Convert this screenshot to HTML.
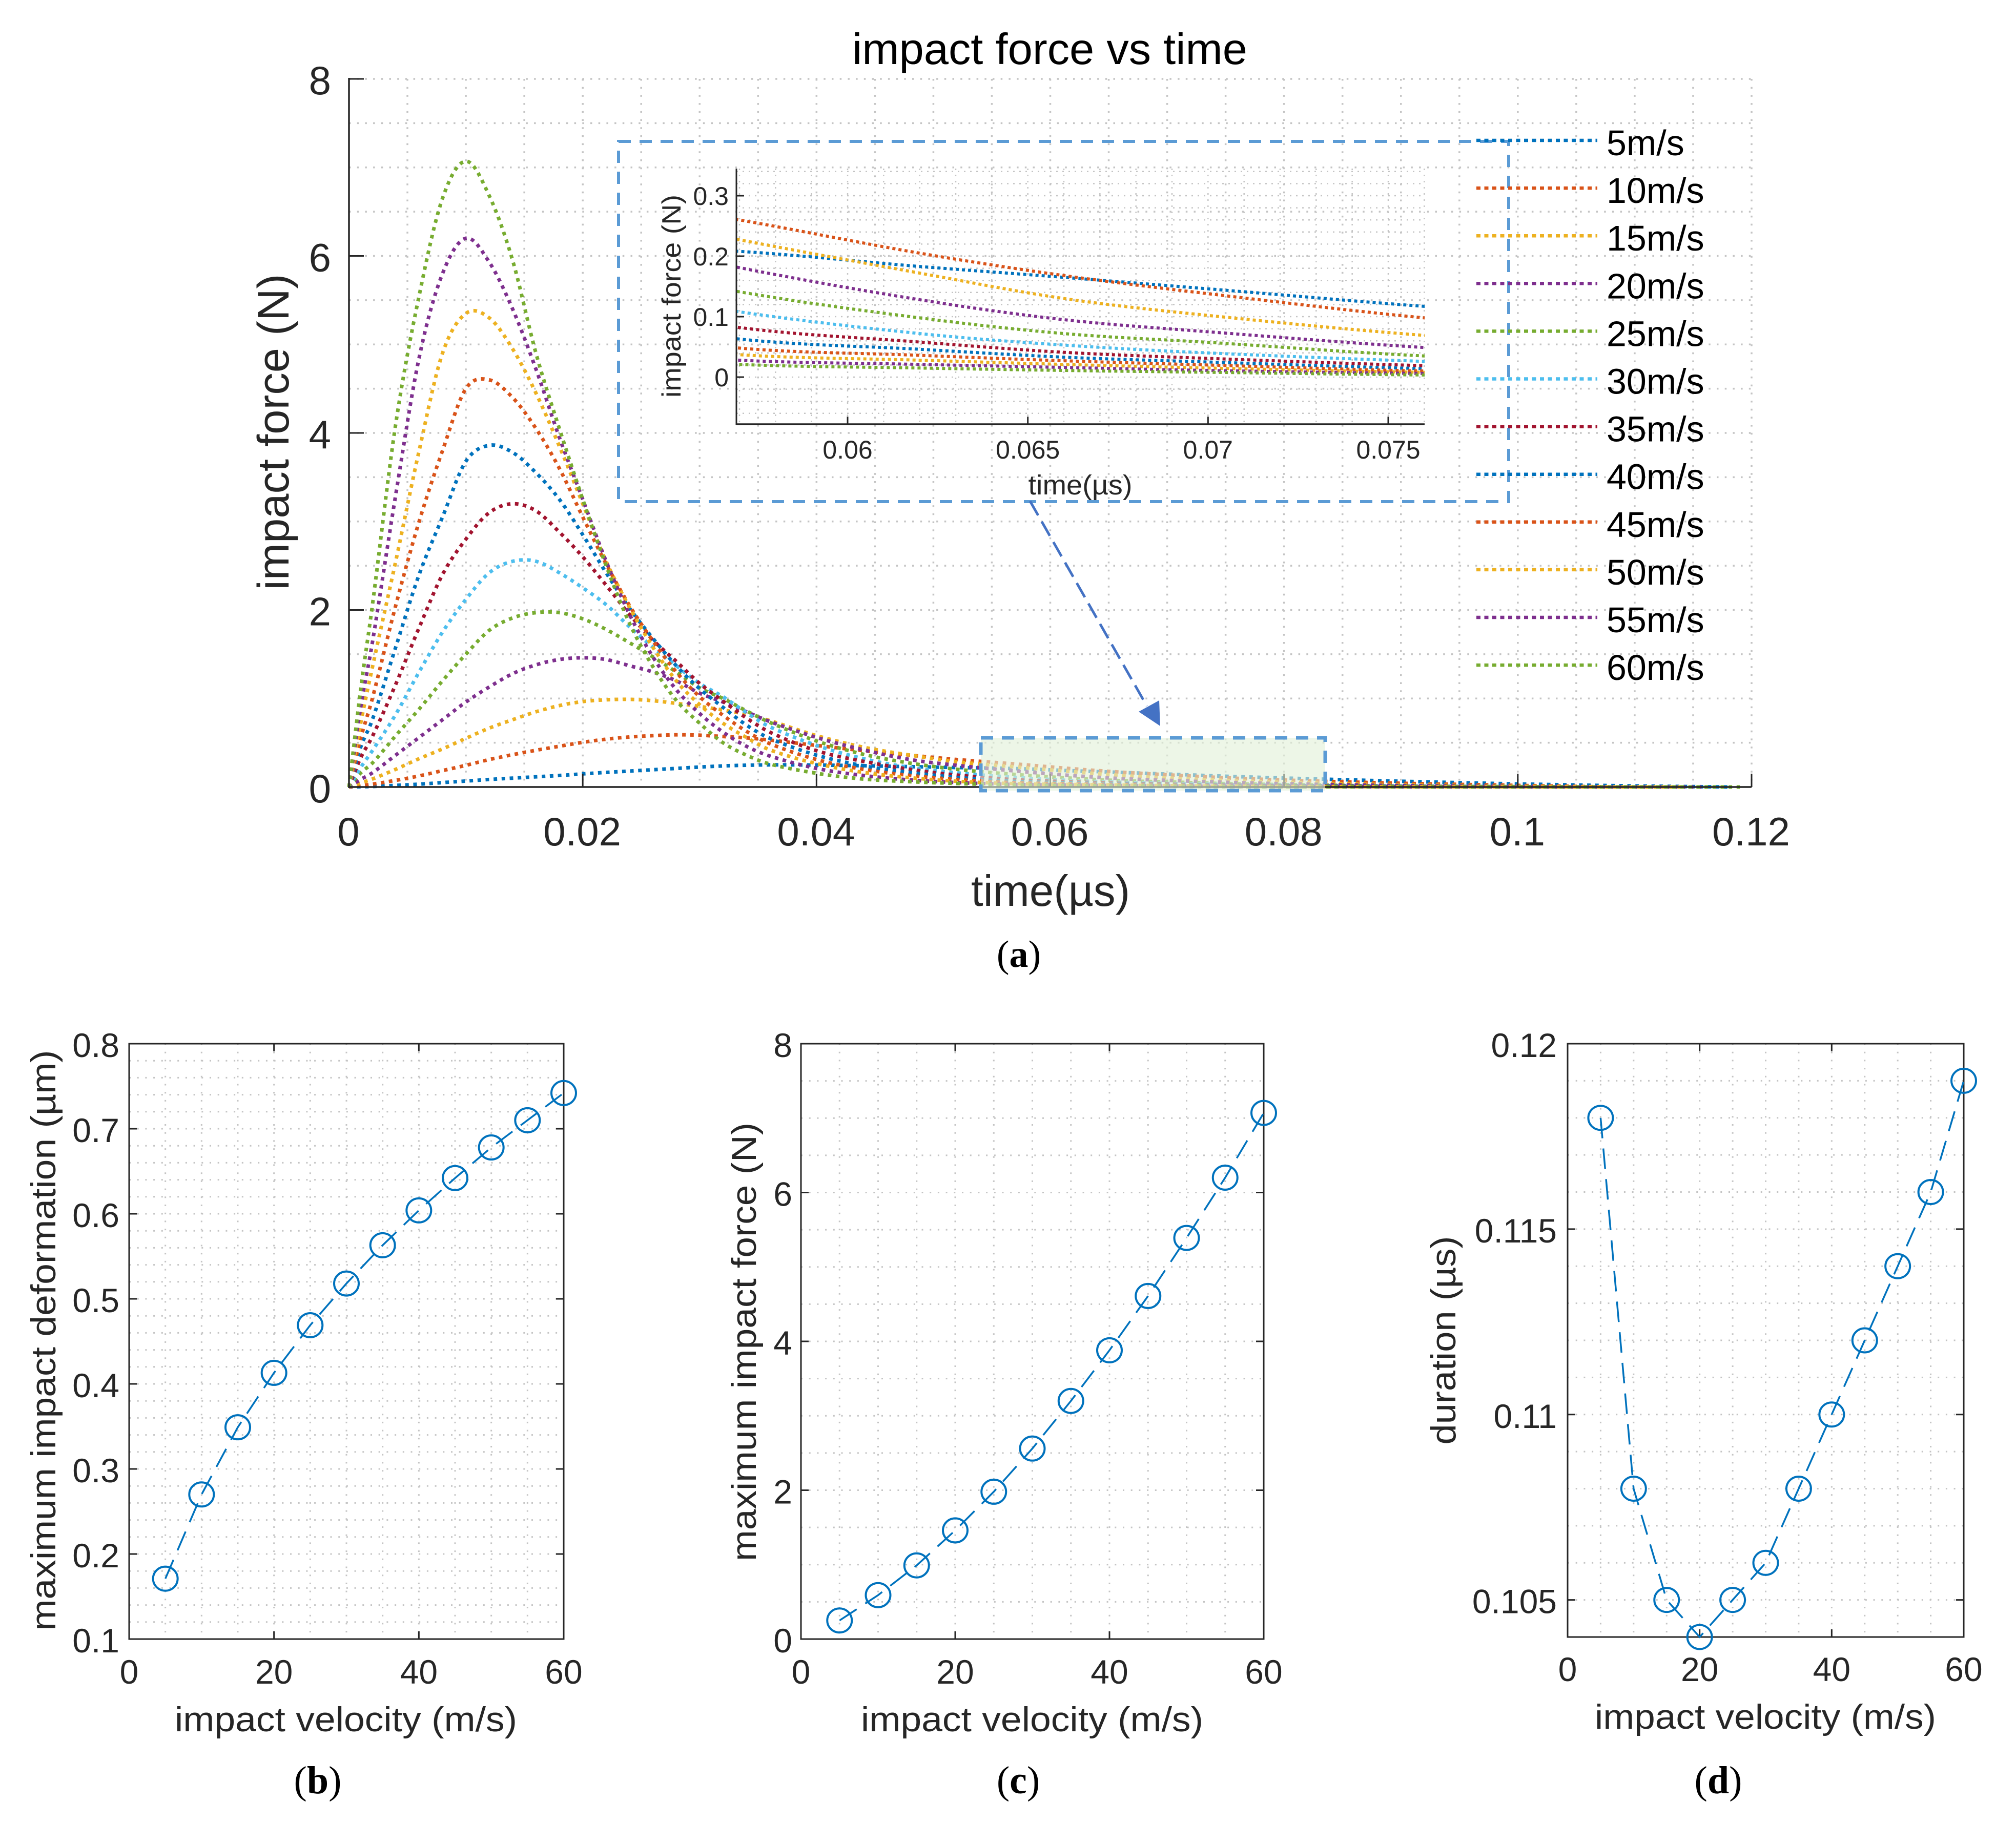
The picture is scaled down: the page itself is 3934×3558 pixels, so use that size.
<!DOCTYPE html>
<html>
<head>
<meta charset="utf-8">
<title>impact force vs time</title>
<style>
html,body{margin:0;padding:0;background:#fff}
svg{display:block}
text{font-family:"Liberation Sans",Arial,sans-serif;fill:#262626}
.cap{font-family:"Liberation Serif",serif;fill:#000}
</style>
</head>
<body>
<svg id="fig" xmlns="http://www.w3.org/2000/svg" width="3934" height="3558" viewBox="0 0 3934 3558">
  <rect width="3934" height="3558" fill="#fff"/>
  <defs>
    <clipPath id="inset-clip"><rect x="1437" y="329" width="1343" height="499"/></clipPath>
  </defs>
  <g id="main-grid"></g>
  <g id="main-lines"></g>
  <g id="main-axes"></g>
  <rect x="1914" y="1440" width="672" height="103" fill="#e2f0d9" fill-opacity="0.62" stroke="#5b9bd5" stroke-width="7" stroke-dasharray="24 17"/>
  <rect x="1207" y="276" width="1737" height="703" fill="none" stroke="#5b9bd5" stroke-width="6" stroke-dasharray="24 17"/>
  <line x1="2010" y1="978" x2="2238" y2="1378" stroke="#4472c4" stroke-width="5" stroke-dasharray="32 14"/>
  <polygon points="2264,1417 2262,1367 2222,1389" fill="#4472c4"/>
  <g id="inset-grid"></g>
  <g id="inset-lines" clip-path="url(#inset-clip)"></g>
  <g id="inset-axes"></g>
  <g id="legend"></g>
  <text x="1663" y="125" font-size="85" textLength="771" lengthAdjust="spacingAndGlyphs" style="fill:#000">impact force vs time</text>
  <text transform="translate(563,843) rotate(-90)" text-anchor="middle" font-size="86" textLength="617" lengthAdjust="spacingAndGlyphs">impact force (N)</text>
  <text x="2050" y="1768" text-anchor="middle" font-size="85" textLength="310" lengthAdjust="spacingAndGlyphs">time(µs)</text>
  <text transform="translate(1328,578) rotate(-90)" text-anchor="middle" font-size="52" textLength="396" lengthAdjust="spacingAndGlyphs">impact force (N)</text>
  <text x="2108" y="965" text-anchor="middle" font-size="54" textLength="203" lengthAdjust="spacingAndGlyphs">time(µs)</text>
  <text class="cap" x="1988" y="1887" text-anchor="middle" font-size="74">(<tspan font-weight="bold">a</tspan>)</text>
  <g id="panel-b"></g>
  <g id="panel-c"></g>
  <g id="panel-d"></g>
  <text x="675" y="3379" text-anchor="middle" font-size="68" textLength="668" lengthAdjust="spacingAndGlyphs">impact velocity (m/s)</text>
  <text transform="translate(108,2616) rotate(-90)" text-anchor="middle" font-size="68" textLength="1133" lengthAdjust="spacingAndGlyphs">maximum impact deformation (µm)</text>
  <text class="cap" x="620" y="3500" text-anchor="middle" font-size="76">(<tspan font-weight="bold">b</tspan>)</text>
  <text x="2014" y="3379" text-anchor="middle" font-size="68" textLength="668" lengthAdjust="spacingAndGlyphs">impact velocity (m/s)</text>
  <text transform="translate(1475,2619) rotate(-90)" text-anchor="middle" font-size="68" textLength="856" lengthAdjust="spacingAndGlyphs">maximum impact force (N)</text>
  <text class="cap" x="1987" y="3500" text-anchor="middle" font-size="76">(<tspan font-weight="bold">c</tspan>)</text>
  <text x="3445" y="3374" text-anchor="middle" font-size="68" textLength="666" lengthAdjust="spacingAndGlyphs">impact velocity (m/s)</text>
  <text transform="translate(2840,2616) rotate(-90)" text-anchor="middle" font-size="68" textLength="407" lengthAdjust="spacingAndGlyphs">duration (µs)</text>
  <text class="cap" x="3353" y="3500" text-anchor="middle" font-size="76">(<tspan font-weight="bold">d</tspan>)</text>
</svg>
<script>
const times = [0,.001,.002,.004,.006,.008,.010,.012,.014,.016,.018,.020,.022,.024,.026,.028,.030,.032,.034,.036,.040,.044,.048,.052,.057,.062,.066,.070,.076,.082,.09,.10,.11];
const force5 = [0,.003,.006,.018,.032,.05,.067,.085,.1,.115,.13,.148,.165,.18,.195,.21,.225,.238,.246,.25,.248,.24,.23,.22,.208,.183,.165,.146,.117,.094,.065,.035,.012];
const force10 = [0,.015,.032,.075,.125,.185,.245,.31,.365,.415,.46,.505,.54,.565,.58,.59,.585,.57,.555,.53,.47,.41,.36,.31,.26,.205,.168,.138,.098,.07,.042,.018,.004];
const force15 = [0,.045,.09,.2,.32,.43,.55,.665,.76,.85,.92,.965,.985,.99,.975,.945,.91,.87,.82,.75,.58,.45,.36,.285,.227,.172,.13,.102,.069,.047,.025,.01,.002];
const force20 = [0,.085,.16,.36,.56,.76,.96,1.13,1.28,1.38,1.44,1.46,1.44,1.37,1.3,1.2,1.06,.96,.85,.74,.56,.42,.31,.245,.181,.128,.095,.075,.049,.032,.016,.006,.002];
const force25 = [0,.16,.27,.58,.88,1.2,1.5,1.77,1.91,1.97,1.97,1.9,1.78,1.63,1.47,1.3,1.12,1.0,.86,.73,.52,.37,.27,.2,.141,.098,.072,.0575,.035,.023,.01,.004,.001];
const force30 = [0,.22,.41,.82,1.3,1.75,2.12,2.42,2.55,2.55,2.42,2.25,2.06,1.81,1.58,1.37,1.17,1.02,.84,.68,.47,.32,.22,.16,.108,.072,.053,.04,.026,.016,.008,.003,.001];
const force35 = [0,.33,.57,1.16,1.8,2.4,2.8,3.1,3.2,3.12,2.88,2.6,2.28,1.95,1.66,1.42,1.17,.97,.78,.62,.41,.29,.2,.135,.082,.058,.041,.031,.019,.012,.006,.002,.001];
const force40 = [0,.45,.76,1.58,2.4,3.05,3.68,3.86,3.78,3.55,3.25,2.85,2.42,2.02,1.68,1.37,1.11,.9,.7,.55,.36,.24,.165,.108,.063,.046,.033,.025,.014,.009,.004,.002,.001];
const force45 = [0,.55,1.0,2.05,3.0,3.8,4.5,4.6,4.4,4.05,3.6,3.05,2.52,2.05,1.65,1.3,1.02,.81,.63,.49,.31,.2,.13,.085,.048,.036,.027,.02,.01,.006,.003,.001,.0005];
const force50 = [0,.72,1.35,2.55,3.8,4.9,5.35,5.3,4.95,4.45,3.85,3.2,2.55,2.03,1.58,1.2,.93,.72,.56,.42,.265,.165,.105,.065,.037,.028,.021,.015,.008,.005,.002,.001,0];
const force55 = [0,.9,1.63,3.3,4.85,5.8,6.2,5.93,5.4,4.72,3.95,3.25,2.55,1.95,1.47,1.1,.83,.62,.46,.35,.21,.13,.08,.05,.028,.021,.016,.011,.006,.004,.002,.001,0];
const force60 = [0,1.1,2.05,4.1,5.55,6.65,7.07,6.68,5.95,4.9,4.05,3.25,2.5,1.85,1.36,.98,.72,.5,.36,.26,.155,.09,.06,.04,.021,.015,.011,.008,.0035,.002,.001,.0005,.0002];
const velocities = [5,10,15,20,25,30,35,40,45,50,55,60];
const legendLabels = ['5m/s','10m/s','15m/s','20m/s','25m/s','30m/s','35m/s','40m/s','45m/s','50m/s','55m/s','60m/s'];
const maxDeformation = [.171,.27,.349,.413,.469,.518,.563,.604,.642,.678,.71,.742];
const maxForce = [.25,.59,.99,1.46,1.98,2.56,3.2,3.88,4.61,5.39,6.2,7.07];
const durations = [.118,.108,.105,.104,.105,.106,.108,.11,.112,.114,.116,.119];
const mainXTicks = ['0','0.02','0.04','0.06','0.08','0.1','0.12'];
const mainYTicks = ['0','2','4','6','8'];
const insetXTicks = ['0.06','0.065','0.07','0.075'];
const insetYTicks = ['0','0.1','0.2','0.3'];
const velocityTicks = ['0','20','40','60'];
const deformationTicks = ['0.1','0.2','0.3','0.4','0.5','0.6','0.7','0.8'];
const forceTicks = ['0','2','4','6','8'];
const durationTicks = ['0.105','0.11','0.115','0.12'];

const allForces = [force5,force10,force15,force20,force25,force30,force35,force40,force45,force50,force55,force60];
const palette = ['#0072BD','#D95319','#EDB120','#7E2F8E','#77AC30','#4DBEEE','#A2142F'];
const NS = 'http://www.w3.org/2000/svg';
const INK = '#262626';
const GRID = '#c4c4c4';

function linear(d0, d1, r0, r1) {
  return v => r0 + (v - d0) * (r1 - r0) / (d1 - d0);
}
function make(tag, parent, attrs) {
  const el = document.createElementNS(NS, tag);
  for (const k in attrs) el.setAttribute(k, attrs[k]);
  parent.appendChild(el);
  return el;
}
function drawLine(parent, x1, y1, x2, y2, color, width, dash, name) {
  const el = make('line', parent, {x1, y1, x2, y2, stroke: color, 'stroke-width': width});
  if (dash) el.setAttribute('stroke-dasharray', dash);
  
  
  return el;
}
function drawText(parent, x, y, str, size, anchor, fill, name) {
  const el = make('text', parent, {x, y, 'font-size': size, 'text-anchor': anchor});
  el.style.fill = fill;
  el.textContent = str;
  
  
  return el;
}
function smoothPath(xs, ys) {
  const n = xs.length;
  const m = [];
  for (let i = 0; i < n; i++) {
    const a = Math.max(0, i - 1), b = Math.min(n - 1, i + 1);
    m.push((ys[b] - ys[a]) / (xs[b] - xs[a]));
  }
  let d = 'M' + xs[0].toFixed(1) + ' ' + ys[0].toFixed(1);
  for (let i = 0; i < n - 1; i++) {
    const h = (xs[i + 1] - xs[i]) / 3;
    d += 'C' + (xs[i] + h).toFixed(1) + ' ' + (ys[i] + m[i] * h).toFixed(1) + ' ' +
         (xs[i + 1] - h).toFixed(1) + ' ' + (ys[i + 1] - m[i + 1] * h).toFixed(1) + ' ' +
         xs[i + 1].toFixed(1) + ' ' + ys[i + 1].toFixed(1);
  }
  return d;
}
function curvePath(values, duration, sx, sy) {
  const xs = [], ys = [];
  times.forEach((t, i) => {
    if (t < duration) { xs.push(sx(t)); ys.push(sy(values[i])); }
  });
  xs.push(sx(duration));
  ys.push(sy(0));
  return smoothPath(xs, ys);
}

/* main chart */
const mx = linear(0, 0.12, 681, 3418);
const my = linear(0, 8, 1536, 154);
const mainGrid = document.getElementById('main-grid');
for (let k = 1; k <= 24; k++) {
  drawLine(mainGrid, mx(k * 0.005), my(8), mx(k * 0.005), my(0), GRID, 3.5, '3.5 12.2', 'main-vertical-gridline');
}
for (let k = 1; k <= 16; k++) {
  drawLine(mainGrid, mx(0), my(k * 0.5), mx(0.12), my(k * 0.5), GRID, 3.5, '3.5 12.2', 'main-horizontal-gridline');
}
const mainLines = document.getElementById('main-lines');
allForces.forEach((vals, i) => {
  const p = make('path', mainLines, {d: curvePath(vals, durations[i], mx, my), fill: 'none', stroke: palette[i % 7], 'stroke-width': 7, 'stroke-dasharray': '7 8.7'});
  
  
});
const mainAxes = document.getElementById('main-axes');
drawLine(mainAxes, mx(0), my(8) - 2, mx(0), my(0) + 2, INK, 3.5, null, 'main-y-axis-line');
drawLine(mainAxes, mx(0), my(0), mx(0.12), my(0), INK, 3.5, null, 'main-x-axis-line');
mainXTicks.forEach(label => {
  const v = Number(label);
  drawLine(mainAxes, mx(v), my(0), mx(v), my(0) - 26, INK, 3, null, 'main-x-tick');
  drawText(mainAxes, mx(v) - 1, 1650, label, 78, 'middle', INK, 'main-x-tick-label');
});
mainYTicks.forEach(label => {
  const v = Number(label);
  drawLine(mainAxes, mx(0), my(v), mx(0) + 29, my(v), INK, 3, null, 'main-y-tick');
  drawText(mainAxes, 646, my(v) + 30, label, 78, 'end', INK, 'main-y-tick-label');
});

/* inset */
const ix = linear(0.06, 0.075, 1654, 2709);
const iy = linear(0, 0.3, 736, 382);
const insetLeft = 1437, insetRight = 2780, insetTop = 329, insetBottom = 828;
const insetGrid = document.getElementById('inset-grid');
for (let k = 57; k <= 76; k++) {
  drawLine(insetGrid, ix(k / 1000), insetTop, ix(k / 1000), insetBottom, GRID, 2.5, '3 9', 'inset-vertical-gridline');
}
for (let k = -3; k <= 17; k++) {
  drawLine(insetGrid, insetLeft, iy(k * 0.02), insetRight, iy(k * 0.02), GRID, 2.5, '3 9', 'inset-horizontal-gridline');
}
const insetLines = document.getElementById('inset-lines');
allForces.forEach((vals, i) => {
  const p = make('path', insetLines, {d: curvePath(vals, durations[i], ix, iy), fill: 'none', stroke: palette[i % 7], 'stroke-width': 6, 'stroke-dasharray': '6 6'});
  
  
});
const insetAxes = document.getElementById('inset-axes');
drawLine(insetAxes, insetLeft, insetTop, insetLeft, insetBottom + 1, INK, 3, null, 'inset-y-axis-line');
drawLine(insetAxes, insetLeft, insetBottom, insetRight, insetBottom, INK, 3.5, null, 'inset-x-axis-line');
insetXTicks.forEach(label => {
  const v = Number(label);
  drawLine(insetAxes, ix(v), insetBottom, ix(v), insetBottom - 15, INK, 3, null, 'inset-x-tick');
  drawText(insetAxes, ix(v), 895, label, 50, 'middle', INK, 'inset-x-tick-label');
});
insetYTicks.forEach(label => {
  const v = Number(label);
  drawLine(insetAxes, insetLeft, iy(v), insetLeft + 15, iy(v), INK, 3, null, 'inset-y-tick');
  drawText(insetAxes, 1422, iy(v) + 18, label, 50, 'end', INK, 'inset-y-tick-label');
});

/* legend */
const legend = document.getElementById('legend');
legendLabels.forEach((label, i) => {
  const y = 274 + 93.1 * i;
  const swatch = drawLine(legend, 2881, y, 3117, y, palette[i % 7], 6.5, '8 7.5', 'legend-swatch');
  swatch.setAttribute('data-series', label);
  drawText(legend, 3135, y + 29, label, 70, 'start', '#000', 'legend-label');
});

/* lower panels */
function drawPanel(cfg) {
  const g = document.getElementById(cfg.id);
  const sx = linear(0, 60, cfg.left, cfg.right);
  const sy = linear(cfg.yMin, cfg.yMax, cfg.bottom, cfg.top);
  for (let v = 5; v <= 60; v += 5) {
    drawLine(g, sx(v), cfg.top, sx(v), cfg.bottom, GRID, 3, '3 12.7', 'vertical-gridline');
  }
  const steps = Math.round((cfg.yMax - cfg.yMin) / cfg.yStep);
  for (let k = 1; k < steps; k++) {
    const v = cfg.yMin + k * cfg.yStep;
    drawLine(g, cfg.left, sy(v), cfg.right, sy(v), GRID, 3, '3 12.7', 'horizontal-gridline');
  }
  const frame = make('rect', g, {x: cfg.left, y: cfg.top, width: cfg.right - cfg.left, height: cfg.bottom - cfg.top, fill: 'none', stroke: INK, 'stroke-width': 3});
  
  
  velocityTicks.forEach(label => {
    const v = Number(label);
    drawLine(g, sx(v), cfg.bottom, sx(v), cfg.bottom - 15, INK, 3, null, 'x-tick');
    drawLine(g, sx(v), cfg.top, sx(v), cfg.top + 15, INK, 3, null, 'x-tick-top');
    drawText(g, sx(v), cfg.xLabelY, label, 66, 'middle', INK, 'x-tick-label');
  });
  cfg.yTicks.forEach(label => {
    const v = Number(label);
    drawLine(g, cfg.left, sy(v), cfg.left + 15, sy(v), INK, 3, null, 'y-tick');
    drawLine(g, cfg.right, sy(v), cfg.right - 15, sy(v), INK, 3, null, 'y-tick-right');
    drawText(g, cfg.yLabelX, sy(v) + 26, label, 66, 'end', INK, 'y-tick-label');
  });
  const pts = velocities.map((v, i) => sx(v).toFixed(1) + ',' + sy(cfg.values[i]).toFixed(1)).join(' ');
  const line = make('polyline', g, {points: pts, fill: 'none', stroke: '#0072BD', 'stroke-width': 3.5, 'stroke-dasharray': '40 20'});
  
  
  velocities.forEach((v, i) => {
    const c = make('ellipse', g, {cx: sx(v), cy: sy(cfg.values[i]), rx: 24, ry: 23.5, fill: 'none', stroke: '#0072BD', 'stroke-width': 4});
    
    
  });
}
drawPanel({id: 'panel-b', left: 252, right: 1100, top: 2037, bottom: 3199, yMin: 0.1, yMax: 0.8, yStep: 0.02, yTicks: deformationTicks, values: maxDeformation, xLabelY: 3286, yLabelX: 233});
drawPanel({id: 'panel-c', left: 1563, right: 2466, top: 2037, bottom: 3199, yMin: 0, yMax: 8, yStep: 0.5, yTicks: forceTicks, values: maxForce, xLabelY: 3286, yLabelX: 1546});
drawPanel({id: 'panel-d', left: 3059, right: 3832, top: 2037, bottom: 3195, yMin: 0.104, yMax: 0.12, yStep: 0.001, yTicks: durationTicks, values: durations, xLabelY: 3281, yLabelX: 3038});
</script>
</body>
</html>
